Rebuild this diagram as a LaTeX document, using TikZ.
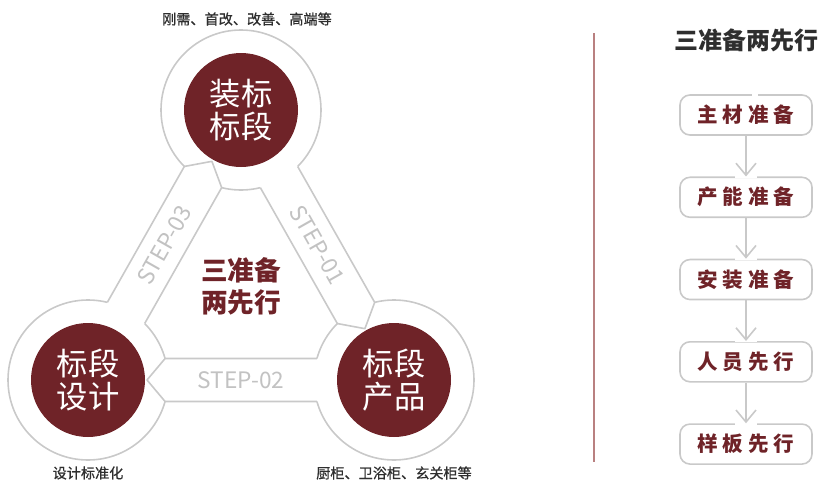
\documentclass[tikz,border=0pt]{standalone}
\usepackage{fontspec}
\setmainfont{Noto Sans CJK SC}
\newfontfamily\boxfont{Noto Sans CJK SC}[LetterSpace=24]
\newfontfamily\notefont{Noto Sans CJK SC}[FakeBold=0.8]
\usetikzlibrary{calc,positioning,arrows.meta}

\definecolor{darkred}{HTML}{6F2328}
\definecolor{ringgray}{HTML}{C9C9C9}
\definecolor{steptext}{HTML}{C2C2C2}
\definecolor{dividerred}{HTML}{B98080}
\definecolor{labeltext}{HTML}{2E2E2E}

\tikzset{
  ring/.style={circle, draw=ringgray, line width=1.2pt, minimum size=120pt, inner sep=0pt},
  disc/.style={circle, fill=darkred, text=white, minimum size=85.5pt, inner sep=0pt,
    align=center, font=\fontsize{23.5pt}{25pt}\selectfont},
  bandline/.style={draw=ringgray, line width=1.2pt, line join=round},
  steplabel/.style={text=steptext, font=\fontsize{17pt}{17pt}\selectfont},
  core/.style={text=darkred, align=center, font=\bfseries\fontsize{20pt}{24pt}\selectfont},
  note/.style={text=labeltext, font=\notefont\fontsize{10.6pt}{12pt}\selectfont},
  title/.style={text=labeltext, font=\bfseries\fontsize{18pt}{20pt}\selectfont},
  stepbox/.style={draw=ringgray, line width=1.2pt, rounded corners=7.5pt, minimum width=99pt,
    minimum height=30pt, text=darkred, font=\boxfont\bfseries\fontsize{15.4pt}{16pt}\selectfont},
  flow/.style={draw=ringgray, line width=1.2pt, -{Straight Barb[length=9pt, width=15pt]}}
}

\begin{document}
\begin{tikzpicture}[x=0.75pt, y=-0.75pt]
  \useasboundingbox (0,0) rectangle (822,482);

  % centres of the three stages
  \coordinate (T) at (241,110);
  \coordinate (L) at (88,380);
  \coordinate (R) at (394,380);

  % outer rings
  \foreach \c in {T,L,R}
    \node[ring] (ring\c) at (\c) {};

  % bands between the rings, pointed at the head end
  \foreach \a/\b/\lab in {T/R/STEP-01, R/L/STEP-02, L/T/STEP-03}{
    \coordinate (\a\b-c0) at ($(\a)!45pt!(\b)$);
    \coordinate (\a\b-c1) at ($(\a)!57.8pt!(\b)$);
    \coordinate (\a\b-h0) at ($(\b)!57.8pt!(\a)$);
    \coordinate (\a\b-tip) at ($(\b)!44.25pt!(\a)$);
    \coordinate (\a\b-fl) at ($(\a\b-c0)!16.1pt!90:(\b)$);
    \coordinate (\a\b-fr) at ($(\a\b-c0)!16.1pt!-90:(\b)$);
    \coordinate (\a\b-el) at ($(\a\b-c1)!16.1pt!90:(\b)$);
    \coordinate (\a\b-er) at ($(\a\b-c1)!16.1pt!-90:(\b)$);
    \coordinate (\a\b-hl) at ($(\a\b-h0)!16.1pt!-90:(\a)$);
    \coordinate (\a\b-hr) at ($(\a\b-h0)!16.1pt!90:(\a)$);
    \fill[white] (\a\b-fl) -- (\a\b-hl) -- (\a\b-tip) -- (\a\b-hr) -- (\a\b-fr) -- cycle;
    \draw[bandline] (\a\b-el) -- (\a\b-hl) -- (\a\b-tip) -- (\a\b-hr) -- (\a\b-er);
    \path (\a) -- node[steplabel, sloped] {\lab} (\b);
  }

  % the three stages
  \node[disc] (top) at (T) {装标\\标段};
  \node[disc] (left) at (L) {标段\\设计};
  \node[disc] (right) at (R) {标段\\产品};

  \node[core] (centre) at (241,286) {三准备\\两先行};

  % notes beside the stages
  \node[note] (topnote) at (247,19) {刚需、首改、改善、高端等};
  \node[note] (leftnote) at (88,473) {设计标准化};
  \node[note] (rightnote) at (394,473) {厨柜、卫浴柜、玄关柜等};

  % divider
  \coordinate (d1) at (594,33);
  \coordinate (d2) at (594,462);
  \draw[dividerred, line width=1.5pt] (d1) -- (d2);

  % right column
  \node[title] (head) at (746,40) {三准备两先行};
  \node[stepbox] (s1) at (746,115) {主材准备};
  \node[stepbox, below=30.5pt of s1] (s2) {产能准备};
  \node[stepbox, below=30.5pt of s2] (s3) {安装准备};
  \node[stepbox, below=30.5pt of s3] (s4) {人员先行};
  \node[stepbox, below=30.5pt of s4] (s5) {样板先行};

  % openings in the top edges
  \draw[white, line width=2pt] ($(s1.north)+(6,0)$) -- ($(s1.north)+(12,0)$);
  \foreach \i in {2,...,5}
    \draw[white, line width=2pt] ($(s\i.north)+(-11,0)$) -- ($(s\i.north)+(11,0)$);

  \foreach \i/\j in {1/2,2/3,3/4,4/5}
    \draw[flow] (s\i.south) -- (s\j.north);
\end{tikzpicture}
\end{document}
